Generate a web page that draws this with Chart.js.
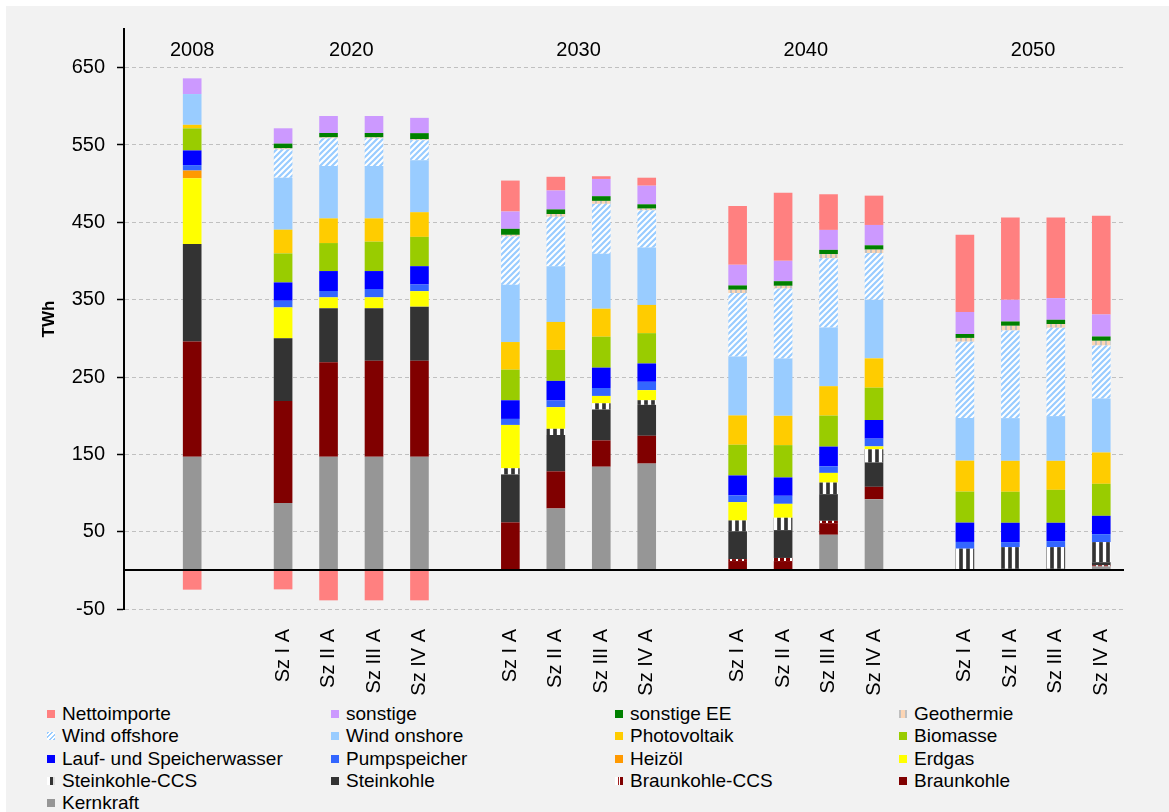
<!DOCTYPE html>
<html>
<head>
<meta charset="utf-8">
<script src="https://cdn.jsdelivr.net/npm/chart.js@4.4.0/dist/chart.umd.min.js"></script>
<style>
  body { margin: 0; background: #fff; font-family: "Liberation Sans", Arial, sans-serif; }
  #frame { position: absolute; left: 6px; top: 6px; width: 1163px; height: 806px; background: #f2f2f2; }
  #wrap { position: absolute; left: 0; top: 0; width: 1169px; height: 700px; }
  #legend {
    position: absolute; left: 47px; top: 703px;
    display: grid; grid-template-columns: repeat(4, 284px); grid-auto-rows: 22.3px;
    font-size: 19px; color: #000;
  }
  .item { display: flex; align-items: center; white-space: nowrap; }
  .sw { width: 8px; height: 8px; margin-right: 7px; flex: none; }
</style>
</head>
<body>
<div id="frame"></div>
<div id="wrap"><canvas id="chart" width="1169" height="700"></canvas></div>
<div id="legend"></div>

<script>
// === Data ===
const years = ["2008", "2020", "2030", "2040", "2050"];
const scenarios = ["Sz I A", "Sz II A", "Sz III A", "Sz IV A"];
const yTicks = [-50, 50, 150, 250, 350, 450, 550, 650];

// one value per bar: 2008, then Sz I..IV A for 2020, 2030, 2040, 2050 (TWh)
const kernkraft      = [147, 87, 147, 147, 147,   0, 80, 134, 138,   0, 0, 46, 92,   0, 0, 0, 5];
const braunkohle     = [149, 132, 122, 124, 124,  62, 48, 34, 36,   12, 12, 15, 16,   0, 0, 0, 0];
const braunkohleCCS  = [0, 0, 0, 0, 0,            0, 0, 0, 0,       2.5, 4, 3, 0,     0, 0, 0, 1.5];
const steinkohle     = [126, 81, 70, 68, 70,      62, 47, 40, 40,   36, 36, 34.5, 31.5, 0, 2, 2, 4];
const steinkohleCCS  = [0, 0, 0, 0, 0,            8, 8, 8, 6,       14, 16, 15, 17,   28, 28, 28, 26];
const erdgas         = [85, 40, 14, 14, 20,       56, 28, 9.5, 13,  23.7, 18, 12.5, 3.8, 0, 0, 0, 0];
const heizoel        = [10, 0, 0, 0, 0,           0, 0, 0, 0,       0, 0, 0, 0,       0, 0, 0, 0];
const pumpspeicher   = [7, 8.6, 8.2, 10.8, 8.6,   7.8, 8.6, 10.3, 10.8, 8.7, 10.4, 8.6, 10, 8.7, 6.5, 7.8, 10.3];
const laufwasser     = [19, 23.7, 25.8, 23.2, 23.7, 24.1, 25.4, 26.3, 23.7, 25.8, 23.7, 25.4, 24.1, 25, 25, 23.7, 23.7];
const biomasse       = [28.5, 37.5, 36.2, 38, 37.9, 39.6, 40, 40, 39.2, 39.7, 41.8, 40.1, 41.8, 40.1, 40.1, 42.6, 41.4];
const photovoltaik   = [4.6, 30.7, 31.9, 30.1, 31.9, 35.7, 36.2, 36.2, 36.5, 37.9, 37.9, 38, 37.9, 40, 40, 37.5, 40.5];
const windOnshore    = [39.8, 67.2, 67.7, 67.7, 67.3, 74, 71.9, 71, 74.1, 76.3, 74.1, 75.8, 75.9, 55.2, 55.2, 57.8, 69.8];
const windOffshore   = [0, 36.6, 35.8, 35.8, 25.8, 62.5, 64.1, 64.6, 48.2, 81.9, 90.6, 89.7, 60.3, 98.7, 113.4, 114.2, 68.6];
const geothermie     = [0, 1.5, 1.3, 1.3, 1.3,    2.1, 3.5, 3.8, 2.2, 4.3, 3.4, 5.2, 4.4, 4.8, 6, 4.8, 6];
const sonstigeEE     = [0, 6, 5.6, 5.6, 7.8,      7.8, 6, 6.1, 5.6, 5.6, 6, 5.6, 5.6, 5.1, 5.6, 5.6, 5.6];
const sonstige       = [20.3, 19.8, 22, 22, 19.8, 22.4, 24.5, 22.3, 24.1, 26.7, 26.3, 25.8, 26.3, 28.5, 28, 28, 28.5];
const nettoimporte   = [-25, -24.6, -38.8, -38.8, -38.8, 40, 17.7, 3.5, 10.3, 75.9, 88, 46.1, 37.9, 100, 106.5, 104.3, 127.5];

// category slots: empty slot before each year group
const slots = [null, { year: "2008", label: "" }];
years.slice(1).forEach((y) => {
  slots.push(null);
  scenarios.forEach((s) => slots.push({ year: y, label: s }));
});
const labels = slots.map((s) => (s ? s.label : ""));

function spread(values) {
  let i = 0;
  return slots.map((s) => (s ? values[i++] : null));
}

// === Patterns ===
const chartCtx = document.getElementById("chart").getContext("2d");

function stripePattern(cols) {
  const tile = document.createElement("canvas");
  tile.width = cols.length;
  tile.height = 1;
  const g = tile.getContext("2d");
  cols.forEach((c, i) => { g.fillStyle = c; g.fillRect(i, 0, 1, 1); });
  return chartCtx.createPattern(tile, "repeat");
}

function diagonalPattern(color) {
  const tile = document.createElement("canvas");
  tile.width = 6;
  tile.height = 6;
  const g = tile.getContext("2d");
  g.fillStyle = "#fff";
  g.fillRect(0, 0, 6, 6);
  g.strokeStyle = color;
  g.lineWidth = 2.2;
  g.beginPath();
  g.moveTo(-1, 7); g.lineTo(7, -1);
  g.moveTo(-1, 1); g.lineTo(1, -1);
  g.moveTo(5, 7); g.lineTo(7, 5);
  g.stroke();
  return chartCtx.createPattern(tile, "repeat");
}

// bottom to top
const series = [
  { name: "Kernkraft", data: kernkraft, color: "#969696" },
  { name: "Braunkohle", data: braunkohle, color: "#800000" },
  { name: "Braunkohle-CCS", data: braunkohleCCS,
    color: stripePattern(["#800000", "#800000", "#800000", "#800000", "#fff", "#fff"]),
    swatch: "linear-gradient(90deg, #fff 0 3px, #a02020 3px 4px, #fff 4px 5px, #800000 5px)" },
  { name: "Steinkohle", data: steinkohle, color: "#333333" },
  { name: "Steinkohle-CCS", data: steinkohleCCS,
    color: stripePattern(["#555", "#333", "#333", "#555", "#fff", "#fff", "#fff"]),
    swatch: "linear-gradient(90deg, #fff 0 3px, #333 3px 6px, #ddd 6px)" },
  { name: "Erdgas", data: erdgas, color: "#ffff00" },
  { name: "Heizöl", data: heizoel, color: "#ff9900" },
  { name: "Pumpspeicher", data: pumpspeicher, color: "#3366ff" },
  { name: "Lauf- und Speicherwasser", data: laufwasser, color: "#0000ff" },
  { name: "Biomasse", data: biomasse, color: "#99cc00" },
  { name: "Photovoltaik", data: photovoltaik, color: "#ffcc00" },
  { name: "Wind onshore", data: windOnshore, color: "#99ccff" },
  { name: "Wind offshore", data: windOffshore, color: diagonalPattern("#99ccff"),
    swatch: "repeating-linear-gradient(-45deg, #99ccff 0 1.6px, #fff 1.6px 3.2px)" },
  { name: "Geothermie", data: geothermie,
    color: stripePattern(["#c0c0c0", "#c0c0c0", "#fcd5b4", "#fcd5b4", "#fcd5b4"]),
    swatch: "linear-gradient(90deg, #c0c0c0 0 2px, #fcd5b4 2px 6px, #c0c0c0 6px)" },
  { name: "sonstige EE", data: sonstigeEE, color: "#008000" },
  { name: "sonstige", data: sonstige, color: "#cc99ff" },
  { name: "Nettoimporte", data: nettoimporte, color: "#ff8080" },
];

// === Plugins ===
const zeroLine = {
  id: "zeroLine",
  afterDatasetsDraw(chart) {
    const { ctx, chartArea, scales: { y } } = chart;
    const py = Math.round(y.getPixelForValue(0));
    ctx.save();
    ctx.strokeStyle = "#000";
    ctx.lineWidth = 2;
    ctx.beginPath();
    ctx.moveTo(chartArea.left, py);
    ctx.lineTo(chartArea.right, py);
    ctx.stroke();
    ctx.restore();
  },
};

const yearLabels = {
  id: "yearLabels",
  afterDraw(chart) {
    const { ctx, chartArea, scales: { x } } = chart;
    ctx.save();
    ctx.font = '20px "Liberation Sans", Arial, sans-serif';
    ctx.fillStyle = "#000";
    ctx.textAlign = "center";
    ctx.textBaseline = "middle";
    years.forEach((yr) => {
      const idx = slots.map((s, i) => (s && s.year === yr ? i : -1)).filter((i) => i >= 0);
      const cx = (x.getPixelForValue(idx[0]) + x.getPixelForValue(idx[idx.length - 1])) / 2;
      ctx.fillText(yr, cx, chartArea.top + 21);
    });
    ctx.restore();
  },
};

// === Chart ===
new Chart(chartCtx, {
  type: "bar",
  data: {
    labels: labels,
    datasets: series.map((s) => ({
      label: s.name,
      data: spread(s.data),
      backgroundColor: s.color,
      borderWidth: 0,
      barPercentage: 0.41,
      categoryPercentage: 1,
    })),
  },
  options: {
    responsive: false,
    animation: false,
    layout: { padding: { left: 0, right: 45, top: 29, bottom: 0 } },
    plugins: { legend: { display: false }, tooltip: { enabled: false } },
    scales: {
      x: {
        stacked: true,
        grid: { display: false, drawTicks: false },
        border: { display: false },
        ticks: {
          autoSkip: false,
          minRotation: 90,
          maxRotation: 90,
          padding: 20,
          color: "#000",
          font: { family: '"Liberation Sans", Arial, sans-serif', size: 20 },
        },
        afterFit: (s) => { s.height = 91; },
      },
      y: {
        stacked: true,
        min: -50,
        max: 700,
        afterBuildTicks: (s) => { s.ticks = yTicks.map((v) => ({ value: v })); },
        afterFit: (s) => { s.width = 124; },
        grid: { color: "#c0c0c0", lineWidth: 1, tickLength: 7, tickColor: "#000", tickWidth: 1.5 },
        border: { display: true, color: "#000", width: 2, dash: [4, 3] },
        ticks: {
          padding: 12,
          color: "#000",
          font: { family: '"Liberation Sans", Arial, sans-serif', size: 20 },
        },
        title: {
          display: true,
          text: "TWh",
          color: "#000",
          font: { family: '"Liberation Sans", Arial, sans-serif', size: 17, weight: "bold" },
          padding: { top: 39, bottom: 0 },
        },
      },
    },
  },
  plugins: [zeroLine, yearLabels],
});

// === Legend ===
const legendEl = document.getElementById("legend");
series.slice().reverse().forEach((s) => {
  const item = document.createElement("div");
  item.className = "item";
  const sw = document.createElement("span");
  sw.className = "sw";
  sw.style.background = s.swatch || s.color;
  item.appendChild(sw);
  item.appendChild(document.createTextNode(s.name));
  legendEl.appendChild(item);
});
</script>
</body>
</html>
